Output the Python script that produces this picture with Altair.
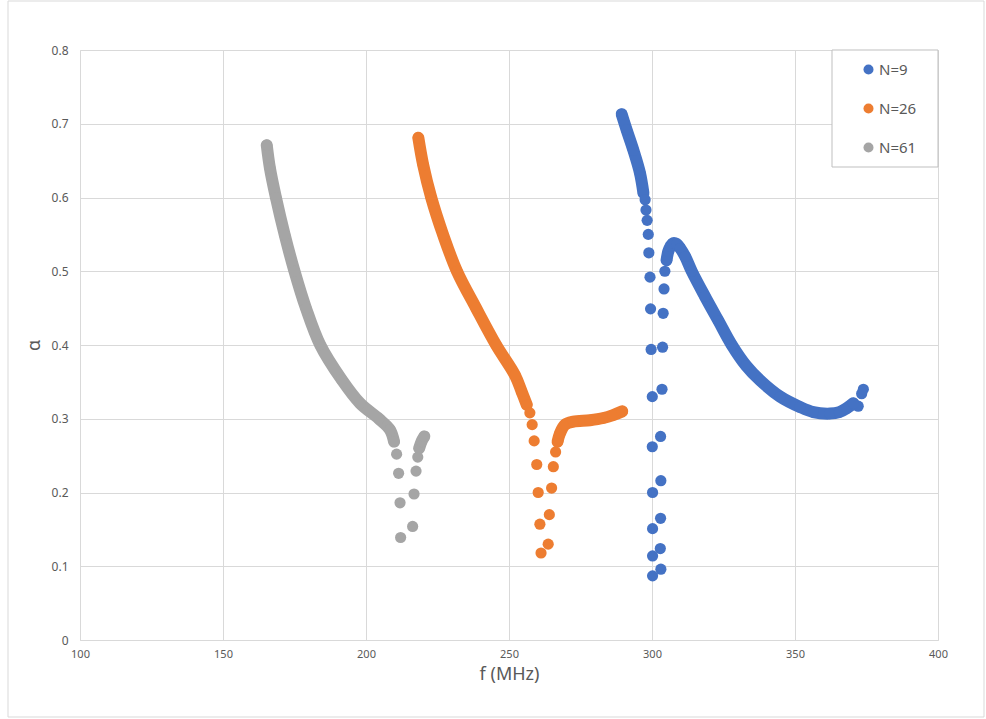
import altair as alt
import pandas as pd

series = ["N=9", "N=26", "N=61"]
colors = ["#4472C4", "#ED7D31", "#A5A5A5"]

x_ticks = [100, 150, 200, 250, 300, 350, 400]
y_ticks = [0, 0.1, 0.2, 0.3, 0.4, 0.5, 0.6, 0.7, 0.8]

# ---- N=9 ----
n9_dense1_f = [289.4, 291.1, 293.5, 295.8, 297.0]
n9_dense1_a = [0.713, 0.692, 0.664, 0.633, 0.606]
n9_sparse_f = [297.6, 297.9, 298.3, 298.7, 298.9, 299.3, 299.5, 299.7, 300.1, 300.1, 300.2, 300.2, 300.2, 300.2,
               303.1, 302.9, 303.0, 303.1, 303.0, 303.5, 303.7, 303.9, 304.2, 304.5,
               372.1, 373.3, 373.9]
n9_sparse_a = [0.597, 0.583, 0.569, 0.550, 0.525, 0.492, 0.449, 0.394, 0.330, 0.262, 0.200, 0.151, 0.114, 0.087,
               0.096, 0.124, 0.165, 0.216, 0.276, 0.340, 0.397, 0.443, 0.476, 0.500,
               0.317, 0.334, 0.340]
n9_dense2_f = [305.1, 305.7, 306.5, 307.4, 308.6, 309.9, 311.6, 313.9, 318.5, 323.2, 327.9, 332.9, 337.8,
               344.8, 351.7, 356.4, 362.2, 365.5, 368.0, 370.4]
n9_dense2_a = [0.515, 0.527, 0.534, 0.538, 0.537, 0.531, 0.520, 0.500, 0.466, 0.433, 0.400, 0.372, 0.352,
               0.330, 0.316, 0.309, 0.307, 0.309, 0.314, 0.321]

# ---- N=26 ----
n26_dense1_f = [218.3, 220.0, 222.8, 227.0, 231.8, 238.5, 245.5, 252.1, 254.4, 256.2]
n26_dense1_a = [0.681, 0.644, 0.600, 0.549, 0.500, 0.450, 0.400, 0.359, 0.337, 0.319]
n26_sparse_f = [257.3, 258.1, 258.8, 259.7, 260.2, 260.8, 261.2, 263.7, 264.1, 264.9, 265.5, 266.3]
n26_sparse_a = [0.308, 0.292, 0.270, 0.238, 0.200, 0.157, 0.118, 0.130, 0.170, 0.206, 0.235, 0.255]
n26_dense2_f = [267.0, 267.8, 269.6, 272.5, 278.3, 283.0, 286.4, 289.6]
n26_dense2_a = [0.269, 0.280, 0.292, 0.296, 0.298, 0.301, 0.305, 0.310]

# ---- N=61 ----
n61_dense1_f = [165.3, 166.4, 168.5, 171.6, 175.0, 179.0, 184.0, 191.5, 197.9, 204.5, 208.4, 209.8]
n61_dense1_a = [0.671, 0.640, 0.600, 0.549, 0.500, 0.450, 0.400, 0.353, 0.321, 0.300, 0.285, 0.269]
n61_sparse_f = [210.7, 211.4, 211.9, 212.1, 216.3, 216.8, 217.5, 218.1]
n61_sparse_a = [0.252, 0.226, 0.186, 0.139, 0.154, 0.198, 0.229, 0.248]
n61_dense2_f = [218.6, 219.4, 220.4]
n61_dense2_a = [0.260, 0.269, 0.276]

rows = []
def add(name, seg, fs, As):
    for i, (f, a) in enumerate(zip(fs, As)):
        rows.append({"f": f, "a": a, "N": name, "seg": seg, "i": i})

add("N=9", "9a", n9_dense1_f, n9_dense1_a)
add("N=9", "", n9_sparse_f, n9_sparse_a)
add("N=9", "9b", n9_dense2_f, n9_dense2_a)
add("N=26", "26a", n26_dense1_f, n26_dense1_a)
add("N=26", "", n26_sparse_f, n26_sparse_a)
add("N=26", "26b", n26_dense2_f, n26_dense2_a)
add("N=61", "61a", n61_dense1_f, n61_dense1_a)
add("N=61", "", n61_sparse_f, n61_sparse_a)
add("N=61", "61b", n61_dense2_f, n61_dense2_a)
df = pd.DataFrame(rows)

FONT = "Noto Sans"
GRID = "#d9d9d9"
TXT = "#595959"

xs = alt.X("f:Q", scale=alt.Scale(domain=[100, 400], nice=False),
           axis=alt.Axis(values=x_ticks, title="f (MHz)", grid=True, gridColor=GRID,
                         domainColor=GRID, ticks=False, labelFontSize=11, labelColor=TXT,
                         labelPadding=8, labelFlush=False, titleFontSize=18, titleFontWeight="normal",
                         titleColor=TXT, titlePadding=6, labelFont=FONT, titleFont=FONT))
ys = alt.Y("a:Q", scale=alt.Scale(domain=[0, 0.8], nice=False),
           axis=alt.Axis(values=y_ticks, title="α", grid=True, gridColor=GRID,
                         domainColor=GRID, ticks=False, labelFontSize=12, labelColor=TXT,
                         labelPadding=12, labelFlush=False,
                         labelExpr="datum.value == 0 ? '0' : format(datum.value, '.1f')",
                         titleFontSize=18, titleFontWeight="normal", titleColor=TXT,
                         titlePadding=8, labelFont=FONT, titleFont=FONT))

base = alt.Chart(df)

lines = base.transform_filter("datum.seg != ''").mark_line(
    strokeWidth=12, strokeCap="round", strokeJoin="round", interpolate="catmull-rom"
).encode(x=xs, y=ys,
         stroke=alt.Stroke("N:N", scale=alt.Scale(domain=series, range=colors), legend=None),
         detail="seg:N", order="i:Q")

points = base.mark_circle(size=125, opacity=1).encode(
    x=xs, y=ys,
    color=alt.Color("N:N", scale=alt.Scale(domain=series, range=colors), sort=series,
                    legend=alt.Legend(title=None, orient="none", legendX=781, legendY=12,
                                      symbolType="circle", symbolSize=100, labelFontSize=15,
                                      labelColor=TXT, labelFont=FONT, rowPadding=23,
                                      labelOffset=3, padding=0, zindex=5))
)

box_df = pd.DataFrame({"k": [0]})
legend_box = alt.Chart(box_df).mark_rect(fill="white", stroke="#bfbfbf", strokeWidth=1).encode(
    x=alt.value(752), x2=alt.value(858), y=alt.value(0), y2=alt.value(117)
)
outer = alt.Chart(box_df).mark_rect(fill=None, stroke=GRID, strokeWidth=1).encode(
    x=alt.value(-72), x2=alt.value(904), y=alt.value(-49), y2=alt.value(667)
)

chart = alt.layer(outer, legend_box, lines, points).properties(
    width=858, height=590,
    autosize=alt.AutoSizeParams(type="none"),
    padding={"left": 80, "top": 50, "right": 48, "bottom": 79},
    background="white",
).resolve_scale(color="independent", stroke="independent").configure_view(strokeWidth=0)

chart.save("out.html", embed_options={"renderer": "svg", "actions": False})
